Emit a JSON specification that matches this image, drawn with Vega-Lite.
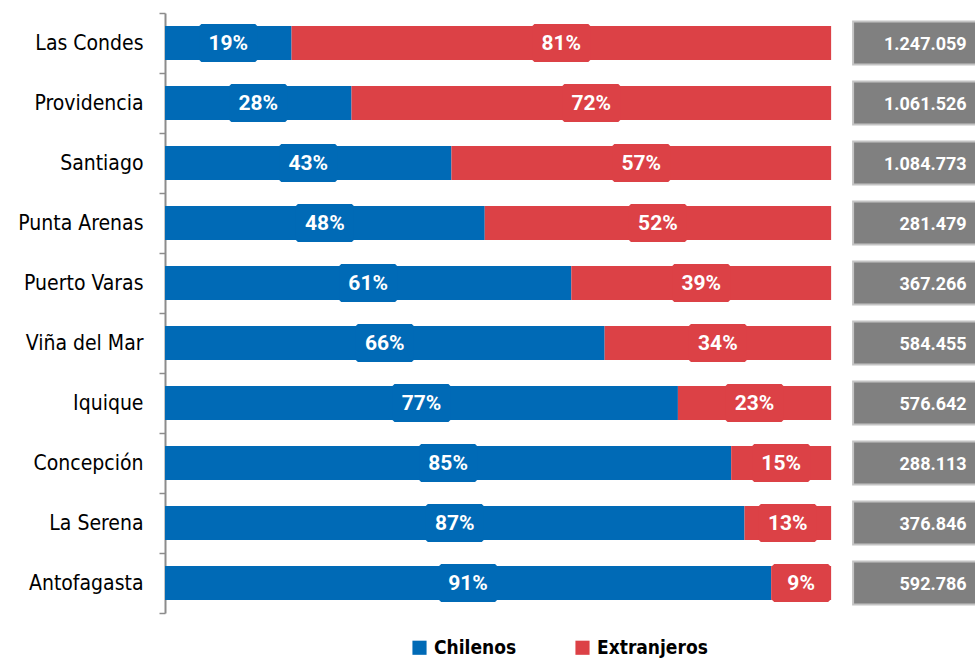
{
  "$schema": "https://vega.github.io/schema/vega-lite/v6.json",
  "width": 810,
  "height": 600,
  "autosize": {"type": "none"},
  "padding": {"left": 165, "top": 13, "right": 0, "bottom": 45},
  "background": "white",
  "config": {
    "view": {"stroke": null},
    "locale": {"number": {"decimal": ",", "thousands": ".", "grouping": [3], "currency": ["$", ""]}}
  },
  "datasets": {
    "shares": [
      {"ciudad": "Las Condes", "grupo": "Chilenos", "pct": 0.19},
      {"ciudad": "Las Condes", "grupo": "Extranjeros", "pct": 0.81},
      {"ciudad": "Providencia", "grupo": "Chilenos", "pct": 0.28},
      {"ciudad": "Providencia", "grupo": "Extranjeros", "pct": 0.72},
      {"ciudad": "Santiago", "grupo": "Chilenos", "pct": 0.43},
      {"ciudad": "Santiago", "grupo": "Extranjeros", "pct": 0.57},
      {"ciudad": "Punta Arenas", "grupo": "Chilenos", "pct": 0.48},
      {"ciudad": "Punta Arenas", "grupo": "Extranjeros", "pct": 0.52},
      {"ciudad": "Puerto Varas", "grupo": "Chilenos", "pct": 0.61},
      {"ciudad": "Puerto Varas", "grupo": "Extranjeros", "pct": 0.39},
      {"ciudad": "Viña del Mar", "grupo": "Chilenos", "pct": 0.66},
      {"ciudad": "Viña del Mar", "grupo": "Extranjeros", "pct": 0.34},
      {"ciudad": "Iquique", "grupo": "Chilenos", "pct": 0.77},
      {"ciudad": "Iquique", "grupo": "Extranjeros", "pct": 0.23},
      {"ciudad": "Concepción", "grupo": "Chilenos", "pct": 0.85},
      {"ciudad": "Concepción", "grupo": "Extranjeros", "pct": 0.15},
      {"ciudad": "La Serena", "grupo": "Chilenos", "pct": 0.87},
      {"ciudad": "La Serena", "grupo": "Extranjeros", "pct": 0.13},
      {"ciudad": "Antofagasta", "grupo": "Chilenos", "pct": 0.91},
      {"ciudad": "Antofagasta", "grupo": "Extranjeros", "pct": 0.09}
    ],
    "totals": [
      {"ciudad": "Las Condes", "total": 1247059},
      {"ciudad": "Providencia", "total": 1061526},
      {"ciudad": "Santiago", "total": 1084773},
      {"ciudad": "Punta Arenas", "total": 281479},
      {"ciudad": "Puerto Varas", "total": 367266},
      {"ciudad": "Viña del Mar", "total": 584455},
      {"ciudad": "Iquique", "total": 576642},
      {"ciudad": "Concepción", "total": 288113},
      {"ciudad": "La Serena", "total": 376846},
      {"ciudad": "Antofagasta", "total": 592786}
    ]
  },
  "encoding": {
    "y": {
      "field": "ciudad",
      "type": "nominal",
      "scale": {
        "domain": ["Las Condes", "Providencia", "Santiago", "Punta Arenas", "Puerto Varas", "Viña del Mar", "Iquique", "Concepción", "La Serena", "Antofagasta"],
        "paddingInner": 0,
        "paddingOuter": 0
      },
      "axis": {
        "title": null,
        "tickBand": "extent",
        "labelFont": "DejaVu Sans Condensed, Liberation Sans, sans-serif",
        "labelFontSize": 21,
        "labelColor": "#000000",
        "labelPadding": 16,
        "domainColor": "#8c8c8c",
        "domainWidth": 2,
        "tickColor": "#8c8c8c",
        "tickWidth": 1.5,
        "tickSize": 6
      }
    }
  },
  "layer": [
    {
      "data": {"name": "shares"},
      "transform": [
        {"stack": "pct", "groupby": ["ciudad"], "sort": [{"field": "grupo", "order": "ascending"}], "as": ["x0", "x1"]}
      ],
      "mark": {"type": "bar", "size": 34},
      "encoding": {
        "x": {"field": "x0", "type": "quantitative", "scale": {"domain": [0, 1.216], "nice": false, "zero": true}, "axis": null},
        "x2": {"field": "x1"},
        "color": {
          "field": "grupo",
          "type": "nominal",
          "scale": {"domain": ["Chilenos", "Extranjeros"], "range": ["#006AB6", "#DC4146"]},
          "legend": {
            "title": null,
            "orient": "none",
            "legendX": 245,
            "legendY": 625,
            "direction": "horizontal",
            "symbolType": "square",
            "symbolSize": 200,
            "symbolStrokeWidth": 0,
            "labelFont": "DejaVu Sans Condensed, Liberation Sans, sans-serif",
            "labelFontSize": 19,
            "labelFontWeight": "bold",
            "labelColor": "#000000",
            "labelOffset": 5,
            "columnPadding": 56
          }
        }
      }
    },
    {
      "data": {"name": "shares"},
      "transform": [
        {"stack": "pct", "groupby": ["ciudad"], "sort": [{"field": "grupo", "order": "ascending"}], "as": ["x0", "x1"]},
        {"calculate": "(datum.x0 + datum.x1) / 2", "as": "xm"}
      ],
      "mark": {
        "type": "point",
        "filled": true,
        "opacity": 1,
        "size": 3364,
        "strokeWidth": 0,
        "shape": "M-0.93,-0.655L0.93,-0.655L1,-0.585L1,0.585L0.93,0.655L-0.93,0.655L-1,0.585L-1,-0.585Z"
      },
      "encoding": {
        "x": {"field": "xm", "type": "quantitative"},
        "fill": {
          "field": "grupo",
          "type": "nominal",
          "scale": {"domain": ["Chilenos", "Extranjeros"], "range": ["#006AB6", "#DC4146"]},
          "legend": null
        }
      }
    },
    {
      "data": {"name": "shares"},
      "transform": [
        {"stack": "pct", "groupby": ["ciudad"], "sort": [{"field": "grupo", "order": "ascending"}], "as": ["x0", "x1"]},
        {"calculate": "(datum.x0 + datum.x1) / 2", "as": "xm"}
      ],
      "mark": {"type": "text", "font": "Roboto", "fontWeight": "bold", "fontSize": 21, "color": "white", "align": "center", "baseline": "middle", "dy": 1},
      "encoding": {
        "x": {"field": "xm", "type": "quantitative"},
        "text": {"field": "pct", "type": "quantitative", "format": ".0%"}
      }
    },
    {
      "data": {"name": "totals"},
      "mark": {"type": "bar", "size": 43, "clip": true, "color": "#808080", "stroke": "#C4C4C4", "strokeWidth": 2},
      "encoding": {
        "x": {"datum": 1.033, "type": "quantitative"},
        "x2": {"datum": 1.3}
      }
    },
    {
      "data": {"name": "totals"},
      "mark": {"type": "text", "font": "Roboto", "fontWeight": "bold", "fontSize": 18, "color": "white", "align": "right", "baseline": "middle", "dy": 2},
      "encoding": {
        "x": {"datum": 1.2035, "type": "quantitative"},
        "text": {"field": "total", "type": "quantitative", "format": ",d"}
      }
    }
  ]
}
